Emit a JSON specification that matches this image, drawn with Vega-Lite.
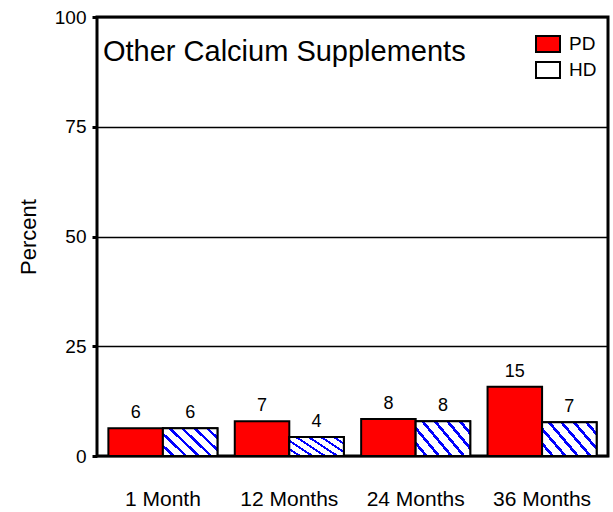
{
  "$schema": "https://vega.github.io/schema/vega-lite/v6.json",
  "width": 511,
  "height": 439,
  "autosize": {"type": "none"},
  "padding": {"left": 97, "top": 17, "right": 5, "bottom": 56},
  "config": {
    "view": {"stroke": "black", "strokeWidth": 3},
    "font": "Liberation Sans",
    "text": {"font": "Liberation Sans"}
  },
  "title": {
    "text": "Other Calcium Supplements",
    "anchor": "start",
    "frame": "group",
    "orient": "top",
    "baseline": "alphabetic",
    "offset": -43,
    "dx": 6,
    "dy": 39,
    "fontSize": 29,
    "fontWeight": "normal",
    "font": "Liberation Sans",
    "color": "black"
  },
  "data": {
    "values": [
      {"month": "1 Month", "series": "PD", "value": 6.3, "label": "6"},
      {"month": "1 Month", "series": "HD", "value": 6.3, "label": "6"},
      {"month": "12 Months", "series": "PD", "value": 7.9, "label": "7"},
      {"month": "12 Months", "series": "HD", "value": 4.3, "label": "4"},
      {"month": "24 Months", "series": "PD", "value": 8.4, "label": "8"},
      {"month": "24 Months", "series": "HD", "value": 7.9, "label": "8"},
      {"month": "36 Months", "series": "PD", "value": 15.8, "label": "15"},
      {"month": "36 Months", "series": "HD", "value": 7.7, "label": "7"}
    ]
  },
  "encoding": {
    "x": {
      "field": "month",
      "type": "nominal",
      "sort": ["1 Month", "12 Months", "24 Months", "36 Months"],
      "scale": {"paddingInner": 0.137, "paddingOuter": 0.09},
      "axis": {
        "title": null,
        "labelAngle": 0,
        "labelFontSize": 21,
        "labelColor": "black",
        "labelFont": "Liberation Sans",
        "ticks": false,
        "domain": false,
        "labelPadding": 32
      }
    },
    "xOffset": {"field": "series", "type": "nominal", "sort": ["PD", "HD"], "scale": {"domain": ["PD", "HD"]}},
    "y": {
      "field": "value",
      "type": "quantitative",
      "scale": {"domain": [0, 100]},
      "axis": {
        "values": [0, 25, 50, 75, 100],
        "title": "Percent",
        "titleFont": "Liberation Sans",
        "titleFontSize": 22,
        "titleFontWeight": "normal",
        "titleColor": "black",
        "titlePadding": 14,
        "labelFont": "Liberation Sans",
        "labelFontSize": 19,
        "labelColor": "black",
        "labelPadding": 6,
        "tickSize": 5,
        "tickWidth": 3,
        "tickColor": "black",
        "domain": false,
        "gridColor": "black",
        "gridWidth": 1.5,
        "gridOpacity": 1
      }
    }
  },
  "layer": [
    {
      "mark": {"type": "bar", "stroke": "black", "strokeWidth": 2, "opacity": 1},
      "encoding": {
        "fill": {
          "field": "series",
          "type": "nominal",
          "scale": {"domain": ["PD", "HD"], "range": ["#ff0000", "#ffffff"]},
          "legend": {
            "title": null,
            "orient": "none",
            "legendX": 438,
            "legendY": 14,
            "symbolType": "M-1,-0.667L1,-0.667L1,0.667L-1,0.667Z",
            "symbolSize": 576,
            "symbolStrokeColor": "black",
            "symbolStrokeWidth": 2,
            "symbolOpacity": 1,
            "labelFont": "Liberation Sans",
            "labelFontSize": 19,
            "labelColor": "black",
            "labelOffset": 8,
            "rowPadding": 0
          }
        }
      }
    },
    {
      "transform": [{"filter": "datum.series === 'HD'"}],
      "mark": {
        "type": "bar",
        "stroke": "black",
        "strokeWidth": 2,
        "fill": {
          "gradient": "linear",
          "x1": 0, "y1": 1, "x2": 1.194, "y2": 0.367,
          "stops": [
            {"offset": 0, "color": "#ffffff"}, {"offset": 0.107, "color": "#ffffff"}, {"offset": 0.107, "color": "#0000ff"}, {"offset": 0.15, "color": "#0000ff"},
            {"offset": 0.15, "color": "#ffffff"}, {"offset": 0.257, "color": "#ffffff"}, {"offset": 0.257, "color": "#0000ff"}, {"offset": 0.3, "color": "#0000ff"},
            {"offset": 0.3, "color": "#ffffff"}, {"offset": 0.407, "color": "#ffffff"}, {"offset": 0.407, "color": "#0000ff"}, {"offset": 0.45, "color": "#0000ff"},
            {"offset": 0.45, "color": "#ffffff"}, {"offset": 0.557, "color": "#ffffff"}, {"offset": 0.557, "color": "#0000ff"}, {"offset": 0.6, "color": "#0000ff"},
            {"offset": 0.6, "color": "#ffffff"}, {"offset": 0.707, "color": "#ffffff"}, {"offset": 0.707, "color": "#0000ff"}, {"offset": 0.75, "color": "#0000ff"},
            {"offset": 0.75, "color": "#ffffff"}, {"offset": 0.857, "color": "#ffffff"}, {"offset": 0.857, "color": "#0000ff"}, {"offset": 0.9, "color": "#0000ff"},
            {"offset": 0.9, "color": "#ffffff"}, {"offset": 1, "color": "#ffffff"}
          ]
        }
      }
    },
    {
      "mark": {"type": "text", "baseline": "alphabetic", "dy": -10, "fontSize": 18, "color": "black", "font": "Liberation Sans"},
      "encoding": {"text": {"field": "label"}}
    }
  ]
}
